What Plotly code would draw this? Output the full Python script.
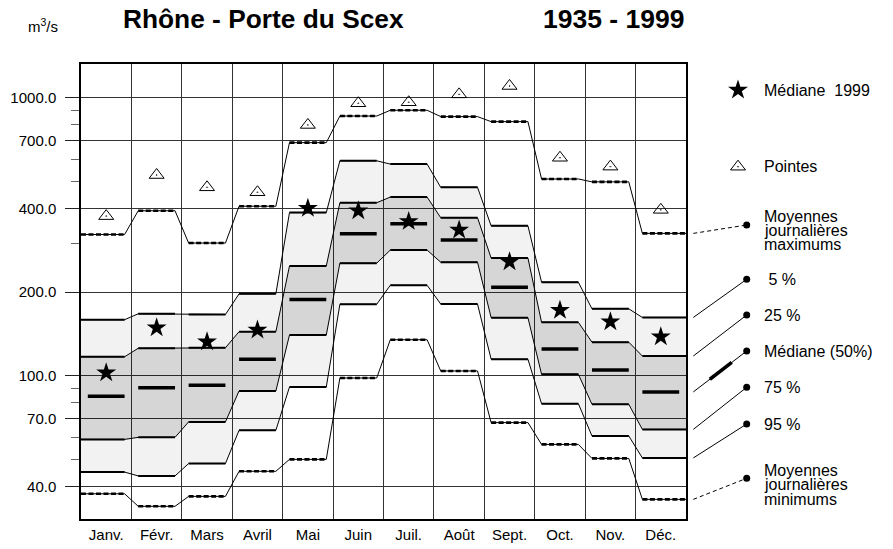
import math
import plotly.graph_objects as go

# ---------------- data (m3/s) ----------------
months = ["Janv.", "Févr.", "Mars", "Avril", "Mai", "Juin",
          "Juil.", "Août", "Sept.", "Oct.", "Nov.", "Déc."]
q_max = [322, 392, 300, 407, 689, 859, 901, 855, 820, 510, 498, 325]
p05 = [159, 167, 166, 197, 386, 593, 577, 476, 346, 217, 174, 162]
p25 = [117, 125.5, 126, 144, 248, 419, 439, 370, 265, 155.6, 132, 117.7]
p50 = [84.3, 90.5, 92.4, 114.6, 188, 324, 352, 308, 208, 124.7, 104.8, 87.4]
p75 = [59, 60, 68.2, 88.1, 140, 254, 283, 256, 161.7, 101.2, 78.9, 64.1]
p95 = [45, 43.6, 48.3, 63.6, 91, 180.6, 211.4, 181, 114.6, 79.3, 60.7, 50.6]
q_min = [37.6, 33.9, 36.8, 45.3, 50, 98.1, 134.7, 104, 67.8, 56.6, 50.4, 35.9]
peaks = [375, 527, 476, 457, 798, 955, 963, 1028, 1102, 608, 565, 395]
med1999 = [102.5, 148.8, 132.5, 146, 400, 392, 359, 334, 257, 172, 156.4, 138.1]

y_tickvals = [40, 70, 100, 200, 400, 700, 1000]
y_ticktext = ["40.0", "70.0", "100.0", "200.0", "400.0", "700.0", "1000.0"]
y_minorvals = [50, 60, 80, 90, 300, 500, 600, 800, 900]

# ---------------- layout geometry ----------------
W, H = 893, 549
ML, MR, MT, MB = 81, 0, 64, 30
PLOT_RIGHT = 686
YRANGE = [1.4845, 3.1212]
FONT = "Liberation Sans, Arial, Helvetica, sans-serif"
SEG_IN = 0.135
n = len(months)

PW, PH = W - ML - MR, H - MT - MB


def paper_x(px):
    return (px - ML) / PW


def paper_y(py):
    return (H - MB - py) / PH


def py_to_val(py):
    frac = (py - MT) / PH
    return 10 ** (YRANGE[1] - frac * (YRANGE[1] - YRANGE[0]))


def seg_bounds(i, edges=True):
    xa = i + SEG_IN if (i > 0 or not edges) else 0
    xb = i + 1 - SEG_IN if (i < n - 1 or not edges) else n
    return xa, xb


def step_xy(vals):
    xs, ys = [], []
    for i, v in enumerate(vals):
        xa, xb = seg_bounds(i)
        xs += [xa, xb]
        ys += [v, v]
    return xs, ys


def seg_xy(vals, edges=True):
    xs, ys = [], []
    for i, v in enumerate(vals):
        xa, xb = seg_bounds(i, edges)
        xs += [xa, xb, None]
        ys += [v, v, None]
    return xs, ys


fig = go.Figure()

# bands
LIGHT = "rgba(0,0,0,0.05)"
DARK = "rgba(0,0,0,0.115)"
for lo, hi, col in [(p95, p05, LIGHT), (p75, p25, DARK)]:
    x, y = step_xy(lo)
    fig.add_trace(go.Scatter(x=x, y=y, mode="lines", line=dict(width=0),
                             hoverinfo="skip", showlegend=False))
    x, y = step_xy(hi)
    fig.add_trace(go.Scatter(x=x, y=y, mode="lines", line=dict(width=0),
                             fill="tonexty", fillcolor=col,
                             hoverinfo="skip", showlegend=False))

# thin connecting polylines
for s in [q_max, p05, p25, p75, p95, q_min]:
    x, y = step_xy(s)
    fig.add_trace(go.Scatter(x=x, y=y, mode="lines",
                             line=dict(color="black", width=1),
                             hoverinfo="skip", showlegend=False))

# thick horizontal segments
for s in [p05, p25, p75, p95]:
    x, y = seg_xy(s)
    fig.add_trace(go.Scatter(x=x, y=y, mode="lines",
                             line=dict(color="black", width=2),
                             hoverinfo="skip", showlegend=False))
for s in [q_max, q_min]:
    x, y = seg_xy(s)
    fig.add_trace(go.Scatter(x=x, y=y, mode="lines",
                             line=dict(color="black", width=2.6, dash="5px,2.5px"),
                             hoverinfo="skip", showlegend=False))

# median bars
x, y = seg_xy(p50, edges=False)
fig.add_trace(go.Scatter(x=x, y=y, mode="lines",
                         line=dict(color="black", width=3.5),
                         hoverinfo="skip", showlegend=False))

centers = [i + 0.5 for i in range(n)]
fig.add_trace(go.Scatter(x=centers, y=peaks, mode="markers",
                         marker=dict(symbol="triangle-up-open-dot", size=13,
                                     color="black", line=dict(width=1)),
                         showlegend=False))
fig.add_trace(go.Scatter(x=centers, y=med1999, mode="markers",
                         marker=dict(symbol="star", size=15, color="black",
                                     line=dict(width=0)),
                         showlegend=False))

# ---------------- legend panel (x2 in pixel units, y2 = same log scale) -----
LX_START, LX_DOT, LX_MARK, LX_TEXT = 693.3, 746.7, 738, 761.7
fig.add_trace(go.Scatter(x=[LX_MARK], y=[py_to_val(90)], mode="markers",
                         xaxis="x2", yaxis="y2",
                         marker=dict(symbol="star", size=15, color="black",
                                     line=dict(width=0)),
                         showlegend=False, hoverinfo="skip"))
fig.add_trace(go.Scatter(x=[LX_MARK], y=[py_to_val(166.7)], mode="markers",
                         xaxis="x2", yaxis="y2",
                         marker=dict(symbol="triangle-up-open-dot", size=13,
                                     color="black", line=dict(width=1)),
                         showlegend=False, hoverinfo="skip"))

legend_items = [
    (q_max, 225, "dash"),
    (p05, 279.3, "solid"),
    (p25, 315, "solid"),
    (p50, 351, "solid"),
    (p75, 387.3, "solid"),
    (p95, 424, "solid"),
    (q_min, 478.3, "dash"),
]
dot_y = []
for s, py, dash in legend_items:
    yv = py_to_val(py)
    dot_y.append(yv)
    fig.add_trace(go.Scatter(x=[LX_START, LX_DOT], y=[s[-1], yv], mode="lines",
                             xaxis="x2", yaxis="y2",
                             line=dict(color="black", width=1,
                                       dash="4px,3px" if dash == "dash" else "solid"),
                             showlegend=False, hoverinfo="skip"))
    if s is p50:
        l0, l1 = math.log10(s[-1]), math.log10(yv)
        ts = [0.31, 0.72]
        fig.add_trace(go.Scatter(
            x=[LX_START + t * (LX_DOT - LX_START) for t in ts],
            y=[10 ** (l0 + t * (l1 - l0)) for t in ts], mode="lines",
            xaxis="x2", yaxis="y2", line=dict(color="black", width=3.5),
            showlegend=False, hoverinfo="skip"))
fig.add_trace(go.Scatter(x=[LX_DOT] * len(dot_y), y=dot_y, mode="markers",
                         xaxis="x2", yaxis="y2",
                         marker=dict(symbol="circle", size=7, color="black"),
                         showlegend=False, hoverinfo="skip"))

annotations = []


def add_text(text, px, py, size=16, xanchor="left", bold=False):
    annotations.append(dict(
        text=f"<b>{text}</b>" if bold else text,
        x=paper_x(px), y=paper_y(py), xref="paper", yref="paper",
        xanchor=xanchor, yanchor="middle", showarrow=False,
        font=dict(family=FONT, size=size, color="black")))


add_text("m<sup>3</sup>/s", 26, 25, size=15)
add_text("Rhône - Porte du Scex", 121, 19, size=26.3, bold=True)
add_text("1935 - 1999", 686, 19, size=26.5, xanchor="right", bold=True)
add_text("Médiane  1999", LX_TEXT, 90)
add_text("Pointes", LX_TEXT, 166.7)
for t, py in zip(["Moyennes", "journalières", "maximums"], [216, 230, 244]):
    add_text(t, LX_TEXT, py)
add_text(" 5 %", LX_TEXT, 279.3)
add_text("25 %", LX_TEXT, 315)
add_text("Médiane (50%)", LX_TEXT, 351)
add_text("75 %", LX_TEXT, 387.3)
add_text("95 %", LX_TEXT, 424)
for t, py in zip(["Moyennes", "journalières", "minimums"], [470, 484.5, 499]):
    add_text(t, LX_TEXT, py)

dx = paper_x(PLOT_RIGHT)
fig.update_layout(
    width=W, height=H,
    margin=dict(l=ML, r=MR, t=MT, b=MB, pad=0, autoexpand=False),
    paper_bgcolor="white", plot_bgcolor="white",
    font=dict(family=FONT, size=15, color="black"),
    showlegend=False,
    annotations=annotations,
    xaxis=dict(domain=[0, dx], range=[0, n], tickmode="array",
               tickvals=centers, ticktext=months, ticks="", showgrid=False,
               zeroline=False, showline=True, mirror=True, linecolor="black",
               linewidth=1.5, tickfont=dict(size=15), ticklabelstandoff=1,
               minor=dict(tickmode="array", tickvals=list(range(1, n)),
                          showgrid=True, gridcolor="#333333", gridwidth=1,
                          ticks="")),
    yaxis=dict(type="log", range=YRANGE, tickmode="array",
               tickvals=y_tickvals, ticktext=y_ticktext,
               showgrid=True, gridcolor="#333333", gridwidth=1,
               ticks="outside", ticklen=14, tickcolor="#222222", tickwidth=1,
               showline=True, mirror=True, linecolor="black", linewidth=1.5,
               zeroline=False, tickfont=dict(size=15), ticklabelstandoff=6,
               minor=dict(tickmode="array", tickvals=y_minorvals,
                          ticks="outside", ticklen=8, tickcolor="#666666",
                          tickwidth=1, showgrid=False)),
    xaxis2=dict(domain=[dx, 1], range=[PLOT_RIGHT, W], visible=False,
                anchor="y2", fixedrange=True),
    yaxis2=dict(type="log", range=YRANGE, domain=[0, 1], visible=False,
                anchor="x2", fixedrange=True),
)

fig.write_html("out.html",
               config={"displayModeBar": False},
               post_script="document.body.style.margin='0';")
